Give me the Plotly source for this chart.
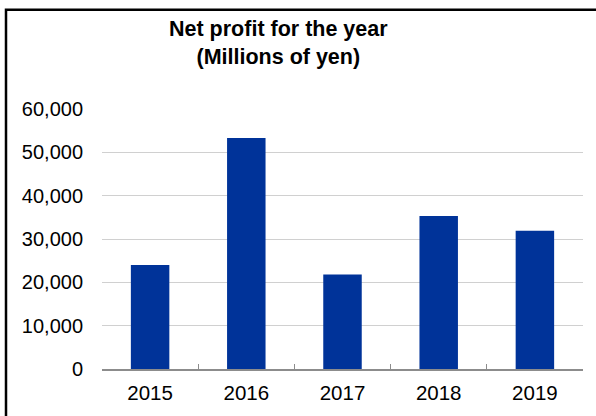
import plotly.graph_objects as go

# Net profit per fiscal year (millions of yen)
years = ["2015", "2016", "2017", "2018", "2019"]
net_profit = [24000, 53300, 21800, 35300, 31900]
y_ticks = [0, 10000, 20000, 30000, 40000, 50000, 60000]
y_tick_labels = ["0", "10,000", "20,000", "30,000", "40,000", "50,000", "60,000"]

W, H = 596, 416
ML, MR, MT, MB = 102, 13, 109, 45
pw, ph = W - ML - MR, H - MT - MB


def px_x(x):
    return (x - ML) / pw


def px_y(y):
    return 1 - (y - MT) / ph


fig = go.Figure(
    go.Bar(
        x=years,
        y=net_profit,
        width=0.4,
        marker=dict(color="#003399", line=dict(width=0)),
    )
)

fig.update_layout(
    width=W,
    height=H,
    margin=dict(l=ML, r=MR, t=MT, b=MB),
    paper_bgcolor="white",
    plot_bgcolor="white",
    showlegend=False,
    font=dict(family="Liberation Sans, Arial, sans-serif", color="#000000"),
    annotations=[
        dict(
            text="<b>Net profit for the year<br>(Millions of yen)</b>",
            xref="paper", yref="paper",
            x=px_x(278), y=px_y(14),
            xanchor="center", yanchor="top",
            showarrow=False,
            font=dict(size=21.5, color="#000000"),
        )
    ],
    shapes=[
        # frame along left and top edges
        dict(
            type="path",
            xref="paper", yref="paper",
            path=f"M {px_x(6)} {px_y(430)} L {px_x(6)} {px_y(9)} L {px_x(610)} {px_y(9)}",
            line=dict(color="#000000", width=2.5),
        )
    ],
)

fig.update_xaxes(
    type="category",
    range=[-0.5, 4.5],
    showline=True,
    linecolor="#8c8c8c",
    linewidth=1.5,
    ticks="inside",
    tickson="boundaries",
    ticklen=5,
    tickcolor="#8c8c8c",
    showgrid=False,
    tickfont=dict(size=20.5, color="#000000"),
    ticklabelstandoff=5,
)

fig.update_yaxes(
    range=[0, 60000],
    tickvals=y_ticks,
    ticktext=y_tick_labels,
    showgrid=True,
    gridcolor="#d0d0d0",
    gridwidth=1,
    zeroline=False,
    showline=False,
    tickfont=dict(size=20, color="#000000"),
    ticklabelstandoff=18,
)

fig.write_html("out.html")
